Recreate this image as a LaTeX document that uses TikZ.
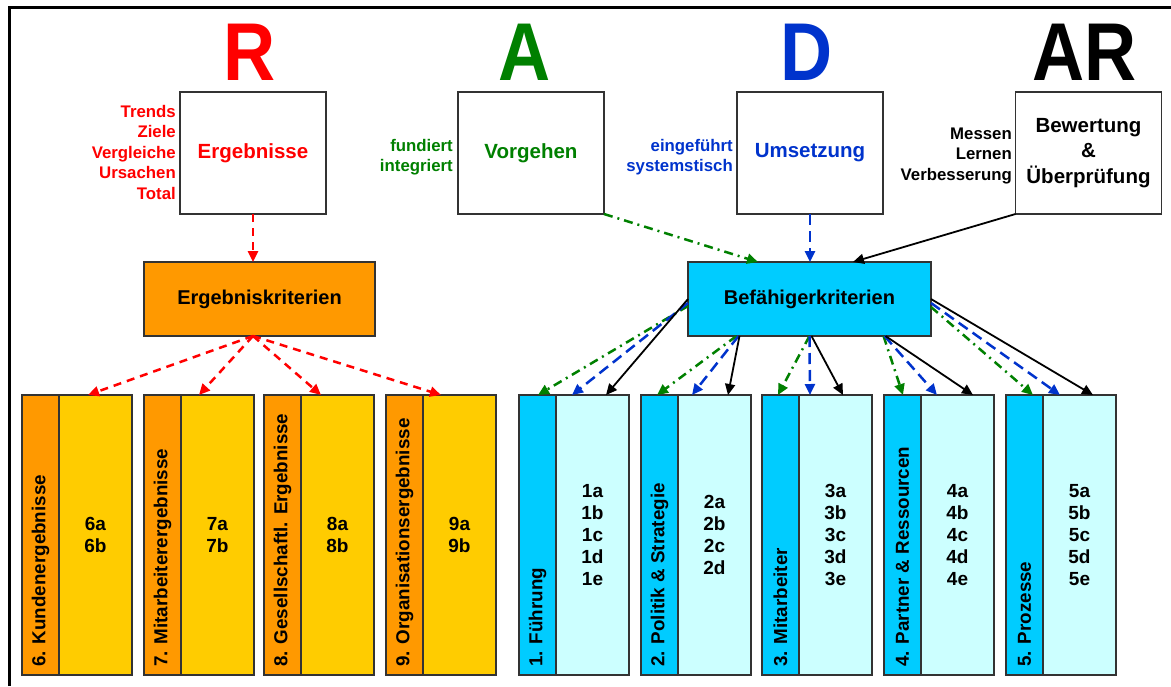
\documentclass[tikz,border=0pt]{standalone}
\usepackage{fontspec}
\setmainfont{Liberation Sans}
\usetikzlibrary{arrows.meta,calc}

\definecolor{rRed}{HTML}{FF0000}
\definecolor{aGreen}{HTML}{008000}
\definecolor{dBlue}{HTML}{0033CC}
\definecolor{orangeA}{HTML}{FF9900}
\definecolor{yellowA}{HTML}{FFCC00}
\definecolor{cyanA}{HTML}{00CCFF}
\definecolor{cyanB}{HTML}{CCFFFF}
\definecolor{edgegray}{HTML}{333333}

% one criterion column: name, left x, stripe colour, body colour, title, sub-criteria
\newcommand\critcol[6]{%
  \node[stripe, fill=#3] (#1s) at (#2+18.5,535) {};
  \node[body, fill=#4] (#1b) at (#2+73.5,535) {};
  \node[vlabel] (#1t) at (#2+18.5,667) {#5};
  \node[items] (#1i) at (#2+73.5,535) {#6};
}

\begin{document}
\begin{tikzpicture}[x=1pt,y=-1pt,
  bigletter/.style={anchor=base, inner sep=0pt, font=\bfseries\fontsize{82}{82}\selectfont},
  topbox/.style={draw=edgegray, line width=1.4pt, fill=white, minimum width=146pt,
    minimum height=122pt, inner sep=0pt, outer sep=0pt, align=center,
    font=\bfseries\fontsize{20.5}{25.5}\selectfont},
  sidelabel/.style={anchor=east, align=right, inner sep=0pt,
    font=\bfseries\fontsize{16.8}{20.5}\selectfont},
  critbox/.style={draw=edgegray, line width=1.4pt, minimum height=74pt, inner sep=0pt,
    outer sep=0pt, font=\bfseries\fontsize{20}{24}\selectfont},
  stripe/.style={draw=edgegray, line width=1.4pt, minimum width=37pt, minimum height=280pt,
    inner sep=0pt, outer sep=0pt},
  body/.style={draw=edgegray, line width=1.4pt, minimum width=73pt, minimum height=280pt,
    inner sep=0pt, outer sep=0pt},
  vlabel/.style={rotate=90, anchor=west, inner sep=0pt,
    font=\bfseries\fontsize{18.8}{22}\selectfont},
  items/.style={align=center, inner sep=0pt, font=\bfseries\fontsize{19}{22}\selectfont},
  tip/.style={-{Triangle[length=11pt,width=10pt]}},
  redarrow/.style={tip, draw=rRed, line width=2.5pt, dash pattern=on 8pt off 6pt},
  bluearrow/.style={tip, draw=dBlue, line width=2.5pt, dash pattern=on 11pt off 6pt},
  greenarrow/.style={tip, draw=aGreen, line width=2.5pt,
    dash pattern=on 9pt off 5pt on 2pt off 5pt},
  blackarrow/.style={tip, draw=black, line width=1.8pt}
]
\useasboundingbox (0,0) rectangle (1171,686);

% frame
\draw[line width=3pt] (9,686) -- (9,7) -- (1171,7);

% RADAR letters
\node[bigletter, text=rRed]   (lR)  at (250,80)  {\scalebox{.88}[1]{R}};
\node[bigletter, text=aGreen] (lA)  at (525,80)  {\scalebox{.88}[1]{A}};
\node[bigletter, text=dBlue]  (lD)  at (807,80)  {\scalebox{.88}[1]{D}};
\node[bigletter, text=black]  (lAR) at (1085,80) {\scalebox{.88}[1]{AR}};

% RADAR boxes
\node[topbox, text=rRed]   (erg) at (253,153)  {Ergebnisse};
\node[topbox, text=aGreen] (vor) at (531,153)  {Vorgehen};
\node[topbox, text=dBlue]  (ums) at (810,153)  {Umsetzung};
\node[topbox, text=black]  (bew) at (1088.5,153) {Bewertung\\\&\\Überprüfung};

% side notes
\node[sidelabel, text=rRed]   (ergn) at (176,152) {Trends\\Ziele\\Vergleiche\\Ursachen\\Total};
\node[sidelabel, text=aGreen] (vorn) at (453,157) {fundiert\\integriert};
\node[sidelabel, text=dBlue]  (umsn) at (733,157) {eingeführt\\systemstisch};
\node[sidelabel, text=black]  (bewn) at (1012,155.5) {Messen\\Lernen\\Verbesserung};

% criteria groups
\node[critbox, fill=orangeA, minimum width=231pt] (ergk) at (259.5,299) {Ergebniskriterien};
\node[critbox, fill=cyanA,   minimum width=243pt] (befk) at (809.5,299) {Befähigerkriterien};

% result columns
\critcol{c6}{22}{orangeA}{yellowA}{6. Kundenergebnisse}{6a\\6b}
\critcol{c7}{144}{orangeA}{yellowA}{7. Mitarbeiterergebnisse}{7a\\7b}
\critcol{c8}{264}{orangeA}{yellowA}{8. Gesellschaftl. Ergebnisse}{8a\\8b}
\critcol{c9}{386}{orangeA}{yellowA}{9. Organisationsergebnisse}{9a\\9b}

% enabler columns
\critcol{c1}{519}{cyanA}{cyanB}{1. Führung}{1a\\1b\\1c\\1d\\1e}
\critcol{c2}{641}{cyanA}{cyanB}{2. Politik \& Strategie}{2a\\2b\\2c\\2d}
\critcol{c3}{762}{cyanA}{cyanB}{3. Mitarbeiter}{3a\\3b\\3c\\3d\\3e}
\critcol{c4}{884}{cyanA}{cyanB}{4. Partner \& Ressourcen}{4a\\4b\\4c\\4d\\4e}
\critcol{c5}{1006}{cyanA}{cyanB}{5. Prozesse}{5a\\5b\\5c\\5d\\5e}

% results side
\draw[redarrow] (erg.south) -- (erg.south |- ergk.north);
\coordinate (ergsrc) at (erg.south |- ergk.south);
\draw[redarrow] (ergsrc) -- ([xshift=66pt]c6s.north west);
\draw[redarrow] (ergsrc) -- ([xshift=55pt]c7s.north west);
\draw[redarrow] (ergsrc) -- ([xshift=57pt]c8s.north west);
\draw[redarrow] (ergsrc) -- ([xshift=55pt]c9s.north west);

% enablers: inputs
\draw[greenarrow] (vor.south east) -- ([xshift=-51.5pt]befk.north);
\draw[bluearrow]  (ums.south) -- (ums.south |- befk.north);
\draw[blackarrow] (bew.south west) -- ([xshift=43.5pt]befk.north);

% enablers: outputs to column 1
\draw[greenarrow] ([yshift=-7pt]befk.west) -- ([xshift=19pt]c1s.north west);
\draw[bluearrow]  ([yshift=-4pt]befk.west) -- ([xshift=53pt]c1s.north west);
\draw[blackarrow] (befk.west) -- ([xshift=87pt]c1s.north west);
% column 2
\draw[greenarrow] ([xshift=-73pt]befk.south) -- ([xshift=16pt]c2s.north west);
\draw[bluearrow]  ([xshift=-71pt]befk.south) -- ([xshift=51pt]c2s.north west);
\draw[blackarrow] ([xshift=-70pt]befk.south) -- ([xshift=87pt]c2s.north west);
% column 3
\draw[greenarrow] (befk.south) -- ([xshift=16pt]c3s.north west);
\draw[bluearrow]  (befk.south) -- ([xshift=48pt]c3s.north west);
\draw[blackarrow] ([xshift=2pt]befk.south) -- ([xshift=81pt]c3s.north west);
% column 4
\draw[greenarrow] ([xshift=74pt]befk.south) -- ([xshift=19pt]c4s.north west);
\draw[bluearrow]  ([xshift=75pt]befk.south) -- ([xshift=53pt]c4s.north west);
\draw[blackarrow] ([xshift=76pt]befk.south) -- ([xshift=89pt]c4s.north west);
% column 5
\draw[greenarrow] ([yshift=-8pt]befk.east) -- ([xshift=27pt]c5s.north west);
\draw[bluearrow]  ([yshift=-4pt]befk.east) -- ([xshift=54pt]c5s.north west);
\draw[blackarrow] (befk.east) -- ([xshift=87pt]c5s.north west);
\end{tikzpicture}
\end{document}
